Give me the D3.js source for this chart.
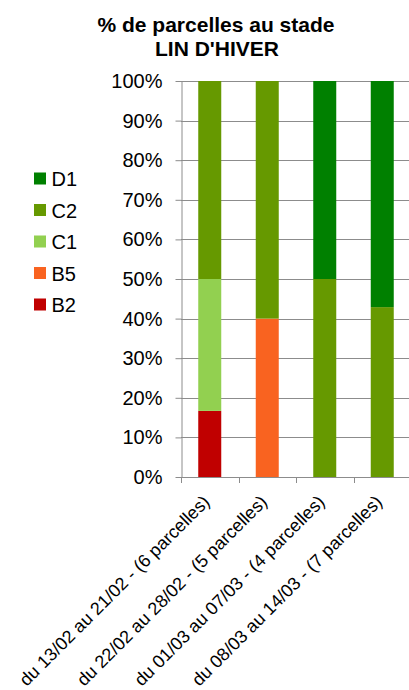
<!DOCTYPE html>
<html>
<head>
<meta charset="utf-8">
<script src="https://cdn.jsdelivr.net/npm/d3@7"></script>
<style>
  html, body { margin: 0; padding: 0; background: #fff; }
  svg { display: block; font-family: "Liberation Sans", Arial, sans-serif; }
</style>
</head>
<body>
<div id="chart"></div>
<script>
// categories (x axis)
const periods = [
  "du 13/02 au 21/02 - (6 parcelles)",
  "du 22/02 au 28/02 - (5 parcelles)",
  "du 01/03 au 07/03 - (4 parcelles)",
  "du 08/03 au 14/03 - (7 parcelles)",
];
// stages, bottom to top in the stack
const stages = ["B2", "B5", "C1", "C2", "D1"];
const stageColors = ["#c00000", "#f96320", "#92d050", "#669900", "#008000"];
// share of parcels per stage (%), one value per period
const B2 = [16.7, 0, 0, 0];
const B5 = [0, 40, 0, 0];
const C1 = [33.3, 0, 0, 0];
const C2 = [50, 60, 50, 42.9];
const D1 = [0, 0, 50, 57.1];
const yTicks = [0, 10, 20, 30, 40, 50, 60, 70, 80, 90, 100];

const series = { B2, B5, C1, C2, D1 };
const W = 409, H = 690;
const m = { top: 81, left: 181, bottom: 477, right: 411 };

const svg = d3.select("#chart").append("svg").attr("width", W).attr("height", H);

const rows = periods.map((p, i) => {
  const r = { period: p };
  stages.forEach((s) => { r[s] = series[s][i]; });
  return r;
});
const stacked = d3.stack().keys(stages)(rows);

const x = d3.scaleBand().domain(periods).range([m.left, m.right]).paddingInner(0.6).paddingOuter(0.3);
const y = d3.scaleLinear().domain([0, 100]).range([m.bottom, m.top]);
const color = d3.scaleOrdinal().domain(stages).range(stageColors);

// gridlines
svg.append("g").selectAll("line").data(yTicks.filter((t) => t > 0)).enter().append("line")
  .attr("x1", m.left).attr("x2", W)
  .attr("y1", (d) => Math.round(y(d)) + 0.5).attr("y2", (d) => Math.round(y(d)) + 0.5)
  .attr("stroke", "#8c8c8c").attr("stroke-width", 1);

// bars
svg.append("g").selectAll("g").data(stacked).enter().append("g")
  .attr("fill", (d) => color(d.key))
  .selectAll("rect").data((d) => d).enter().append("rect")
  .attr("x", (d) => x(d.data.period))
  .attr("width", x.bandwidth())
  .attr("y", (d) => y(d[1]))
  .attr("height", (d) => y(d[0]) - y(d[1]));

// y axis
const yAxis = svg.append("g").attr("transform", `translate(${m.left + 0.5},0)`)
  .call(d3.axisLeft(y).tickValues(yTicks).tickFormat((d) => d + "%").tickSize(6).tickPadding(13).tickSizeOuter(0));
yAxis.select(".domain").attr("stroke", "#8c8c8c");
yAxis.selectAll(".tick line").attr("stroke", "#8c8c8c");
yAxis.selectAll("text").attr("font-size", 20).attr("fill", "#000")
  .attr("font-family", "Liberation Sans, Arial, sans-serif");

// x axis
const step = x.step();
svg.append("line").attr("x1", m.left).attr("x2", W)
  .attr("y1", m.bottom + 0.5).attr("y2", m.bottom + 0.5).attr("stroke", "#8c8c8c");
svg.append("g").selectAll("line").data(d3.range(periods.length + 1)).enter().append("line")
  .attr("x1", (i) => Math.round(m.left + i * step) + 0.5).attr("x2", (i) => Math.round(m.left + i * step) + 0.5)
  .attr("y1", m.bottom).attr("y2", m.bottom + 6).attr("stroke", "#8c8c8c");

svg.append("g").selectAll("text").data(periods).enter().append("text")
  .attr("transform", (d) => `translate(${x(d) + x.bandwidth() / 2 + 1},${m.bottom + 26}) rotate(-45)`)
  .attr("text-anchor", "end")
  .attr("font-size", 18)
  .attr("fill", "#000")
  .text((d) => d);

// legend (top to bottom: D1 ... B2)
const legend = svg.append("g").selectAll("g").data(stages.slice().reverse()).enter().append("g")
  .attr("transform", (d, i) => `translate(34,${178.5 + i * 31.5})`);
legend.append("rect").attr("x", 0).attr("y", -6).attr("width", 12).attr("height", 12)
  .attr("fill", (d) => color(d));
legend.append("text").attr("x", 17.5).attr("y", 7.5).attr("font-size", 20).attr("fill", "#000").text((d) => d);

// title
svg.append("text").attr("x", 216).attr("y", 32).attr("text-anchor", "middle")
  .attr("font-size", 21).attr("font-weight", "bold").text("% de parcelles au stade");
svg.append("text").attr("x", 217).attr("y", 56).attr("text-anchor", "middle")
  .attr("font-size", 21).attr("font-weight", "bold").text("LIN D'HIVER");
</script>
</body>
</html>
